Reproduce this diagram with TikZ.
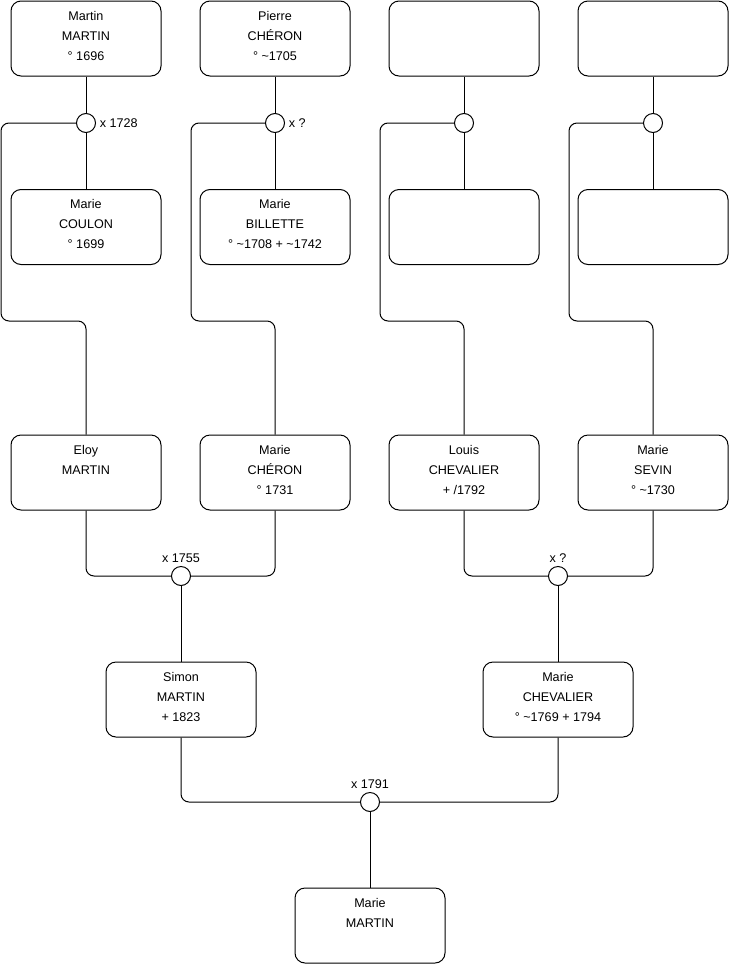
\documentclass[tikz,border=0pt]{standalone}
\usepackage{fontspec}
\setmainfont{Liberation Sans}
\usetikzlibrary{positioning}

\begin{document}
\begin{tikzpicture}[
  x=1pt, y=-1pt, line width=1pt,
  font=\fontsize{12.6}{20}\selectfont,
  person/.style={draw, rounded corners=10pt, align=center, minimum width=150pt, minimum height=75pt, inner sep=0pt},
  wed/.style={draw, circle, minimum size=19pt, inner sep=0pt, fill=white},
  link/.style={rounded corners=8pt}
]
\useasboundingbox (0,0) rectangle (740,975);

% grandparents
\node[person] (martin) at (86,38.5) {Martin\\MARTIN\\° 1696\strut};
\node[person] (pierre) at (275,38.5) {Pierre\\CHÉRON\\° \textasciitilde1705\strut};
\node[person] (top3) at (464,38.5) {};
\node[person] (top4) at (653,38.5) {};

\node[wed, label=right:x 1728] (wed1) at (86,123) {};
\node[wed, label=right:x ?] (wed2) at (275,123) {};
\node[wed] (wed3) at (464,123) {};
\node[wed] (wed4) at (653,123) {};

\node[person] (coulon) at (86,227) {Marie\\COULON\\° 1699\strut};
\node[person] (billette) at (275,227) {Marie\\BILLETTE\\° \textasciitilde1708 + \textasciitilde1742\strut};
\node[person] (spouse3) at (464,227) {};
\node[person] (spouse4) at (653,227) {};

% parents
\node[person] (eloy) at (86,472.5) {Eloy\\MARTIN\\\strut};
\node[person] (cheron) at (275,472.5) {Marie\\CHÉRON\\° 1731\strut};
\node[person] (louis) at (464,472.5) {Louis\\CHEVALIER\\+ /1792\strut};
\node[person] (sevin) at (653,472.5) {Marie\\SEVIN\\° \textasciitilde1730\strut};

\node[wed, label=above:x 1755] (wed5) at (181,576) {};
\node[wed, label=above:x ?] (wed6) at (558,576) {};

\node[person] (simon) at (181,699.5) {Simon\\MARTIN\\+ 1823\strut};
\node[person] (chevalier) at (558,699.5) {Marie\\CHEVALIER\\° \textasciitilde1769 + 1794\strut};

\node[wed, label=above:x 1791] (wed7) at (370,802) {};
\node[person] (marie) at (370,925.5) {Marie\\MARTIN\\\strut};

\draw (martin) -- (wed1) -- (coulon);
\draw (pierre) -- (wed2) -- (billette);
\draw (top3) -- (wed3) -- (spouse3);
\draw (top4) -- (wed4) -- (spouse4);

\draw[link] (wed1) -- ++(-85,0) -- ++(0,198) -| (eloy);
\draw[link] (wed2) -- ++(-84,0) -- ++(0,198) -| (cheron);
\draw[link] (wed3) -- ++(-84,0) -- ++(0,198) -| (louis);
\draw[link] (wed4) -- ++(-84,0) -- ++(0,198) -| (sevin);

\draw[link] (eloy) |- (wed5);
\draw[link] (cheron) |- (wed5);
\draw (wed5) -- (simon);
\draw[link] (louis) |- (wed6);
\draw[link] (sevin) |- (wed6);
\draw (wed6) -- (chevalier);

\draw[link] (simon) |- (wed7);
\draw[link] (chevalier) |- (wed7);
\draw (wed7) -- (marie);
\end{tikzpicture}
\end{document}
